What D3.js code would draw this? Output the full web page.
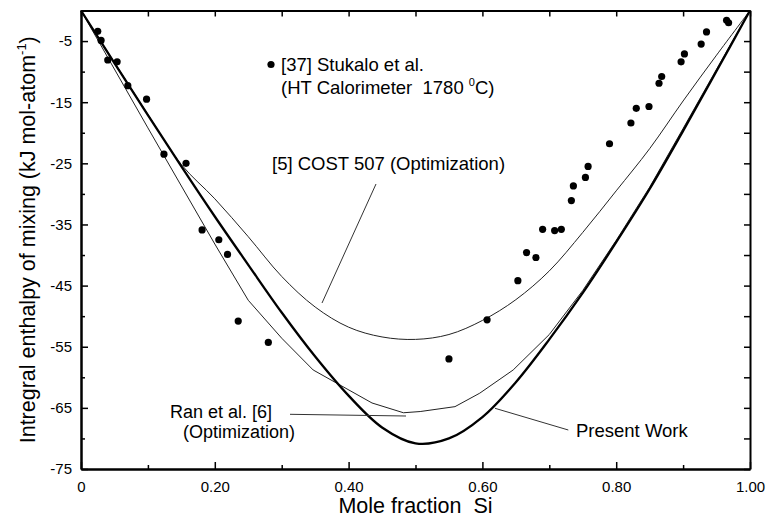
<!DOCTYPE html>
<html>
<head>
<meta charset="utf-8">
<script src="https://cdn.jsdelivr.net/npm/d3@7"></script>
<style>
  body { margin: 0; background: #fff; }
  svg text { font-family: "Liberation Sans", Arial, Helvetica, sans-serif; fill: #000; white-space: pre; }
</style>
</head>
<body>
<div class="chartContainer"></div>
<script>
// model curves (mole fraction Si -> kJ/mol-atom)
const gridX = [0, 0.05, 0.1, 0.15, 0.2, 0.25, 0.3, 0.35, 0.4, 0.45, 0.5, 0.55, 0.6, 0.65, 0.7, 0.75, 0.8, 0.85, 0.9, 0.95, 1];
const presentWork = [0, -8.6, -17.1, -25.5, -33.7, -41.6, -49.4, -56.6, -63.0, -68.2, -70.8, -70.0, -66.5, -60.8, -53.8, -46.2, -37.9, -29.2, -19.7, -9.9, 0];
const cost507 = [0, -8.5, -17.0, -25.2, -30.8, -37.0, -43.5, -48.5, -51.8, -53.4, -53.8, -53.0, -50.7, -47.3, -42.6, -36.3, -29.5, -22.6, -14.8, -7.3, 0];

const ranX = [0, 0.1, 0.2, 0.25, 0.3, 0.347, 0.435, 0.482, 0.507, 0.559, 0.596, 0.646, 0.7, 0.75, 0.8, 0.85, 0.9, 0.95, 1];
const ranEtAl = [0, -19.2, -38.2, -47.4, -53.6, -58.8, -64.2, -65.8, -65.6, -64.8, -62.6, -58.8, -53.0, -45.8, -37.6, -28.9, -19.3, -9.6, 0];

// [37] Stukalo et al. measurements
const stukaloX = [0.025, 0.030, 0.040, 0.054, 0.070, 0.098, 0.124, 0.157, 0.181, 0.206, 0.219, 0.235, 0.280, 0.550, 0.607,
                  0.653, 0.666, 0.680, 0.690, 0.708, 0.718, 0.733, 0.736, 0.754, 0.758, 0.790, 0.822, 0.830, 0.849, 0.864,
                  0.868, 0.897, 0.902, 0.927, 0.935, 0.965, 0.968];
const stukaloY = [-3.4, -4.9, -8.1, -8.4, -12.3, -14.5, -23.5, -25.0, -35.9, -37.5, -39.9, -50.8, -54.3, -57.0, -50.6,
                  -44.2, -39.6, -40.4, -35.8, -36.0, -35.8, -31.1, -28.7, -27.3, -25.5, -21.8, -18.4, -16.0, -15.7, -11.9,
                  -10.8, -8.4, -7.1, -5.5, -3.5, -1.6, -2.0];

const xTicks = [0, 0.2, 0.4, 0.6, 0.8, 1.0];
const xTickLabels = ["0", "0.20", "0.40", "0.60", "0.80", "1.00"];
const xMinorTicks = [0.1, 0.3, 0.5, 0.7, 0.9];
const yTicks = [-5, -15, -25, -35, -45, -55, -65, -75];
const yMinorTicks = [-10, -20, -30, -40, -50, -60, -70];

let width = 768;
let height = 520;
let margin = ({top: 10.5, right: 18, bottom: 51, left: 81});

let x = d3.scaleLinear()
    .domain([0, 1])
    .range([margin.left, width - margin.right]);

let y = d3.scaleLinear()
    .domain([-75, 0])
    .range([height - margin.bottom, margin.top]);

const svg = d3.select('.chartContainer').append("svg")
    .attr("width", width)
    .attr("height", height)
    .attr("viewBox", [0, 0, width, height]);

const styleAxis = g => {
    g.select(".domain").attr("stroke", "#000").attr("stroke-width", 2);
    g.selectAll(".tick line").attr("stroke", "#000").attr("stroke-width", 1.5);
};

// bottom axis with labels
svg.append("g")
    .attr("transform", `translate(0,${y(-75)})`)
    .call(d3.axisBottom(x).tickValues(xTicks).tickFormat((d, i) => xTickLabels[i])
        .tickSizeInner(-7).tickSizeOuter(0).tickPadding(12))
    .call(styleAxis)
    .call(g => g.selectAll("text").attr("font-size", 15).attr("font-family", null));

svg.append("g")
    .attr("transform", `translate(0,${y(-75)})`)
    .call(d3.axisBottom(x).tickValues(xMinorTicks).tickFormat("").tickSizeInner(-4).tickSizeOuter(0))
    .call(styleAxis);

// top axis, ticks only
svg.append("g")
    .attr("transform", `translate(0,${y(0)})`)
    .call(d3.axisTop(x).tickValues(xTicks.concat(xMinorTicks)).tickFormat("").tickSizeInner(-6).tickSizeOuter(0))
    .call(styleAxis);

// left axis with labels
svg.append("g")
    .attr("transform", `translate(${x(0)},0)`)
    .call(d3.axisLeft(y).tickValues(yTicks).tickFormat(d => String(d))
        .tickSizeInner(-7).tickSizeOuter(0).tickPadding(9))
    .call(styleAxis)
    .call(g => g.selectAll("text").attr("font-size", 15).attr("font-family", null));

svg.append("g")
    .attr("transform", `translate(${x(0)},0)`)
    .call(d3.axisLeft(y).tickValues(yMinorTicks).tickFormat("").tickSizeInner(-4).tickSizeOuter(0))
    .call(styleAxis);

// right axis, ticks only
svg.append("g")
    .attr("transform", `translate(${x(1)},0)`)
    .call(d3.axisRight(y).tickValues(yTicks.concat(yMinorTicks)).tickFormat("").tickSizeInner(-6).tickSizeOuter(0))
    .call(styleAxis);

// curves
let smooth = d3.line()
    .x(d => x(d[0]))
    .y(d => y(d[1]))
    .curve(d3.curveCatmullRom.alpha(0.5));

let straight = d3.line()
    .x(d => x(d[0]))
    .y(d => y(d[1]));

svg.append("path")
    .datum(gridX.map((v, i) => [v, cost507[i]]))
    .attr("fill", "none")
    .attr("stroke", "#222")
    .attr("stroke-width", 1)
    .attr("d", smooth);

svg.append("path")
    .datum(ranX.map((v, i) => [v, ranEtAl[i]]))
    .attr("fill", "none")
    .attr("stroke", "#222")
    .attr("stroke-width", 1)
    .attr("stroke-linejoin", "round")
    .attr("d", straight);

svg.append("path")
    .datum(gridX.map((v, i) => [v, presentWork[i]]))
    .attr("fill", "none")
    .attr("stroke", "#000")
    .attr("stroke-width", 2.3)
    .attr("stroke-linejoin", "round")
    .attr("d", smooth);

// experimental points
svg.append("g")
    .selectAll("circle")
    .data(stukaloX.map((v, i) => [v, stukaloY[i]]))
    .join("circle")
    .attr("cx", d => x(d[0]))
    .attr("cy", d => y(d[1]))
    .attr("r", 3.6)
    .attr("fill", "#000");

// legend for the points
svg.append("circle")
    .attr("cx", 271)
    .attr("cy", 64.5)
    .attr("r", 3.6)
    .attr("fill", "#000");

svg.append("text")
    .attr("x", 281)
    .attr("y", 71)
    .attr("font-size", 18.5)
    .text("[37] Stukalo et al.");

const legend2 = svg.append("text")
    .attr("x", 281)
    .attr("y", 93.5)
    .attr("font-size", 18.5);
legend2.append("tspan").text("(HT Calorimeter  1780 ");
legend2.append("tspan").attr("font-size", 11).attr("dy", -8).text("0");
legend2.append("tspan").attr("dy", 8).text("C)");

// annotations with leader lines
const leader = (x1, y1, x2, y2) => svg.append("line")
    .attr("x1", x1).attr("y1", y1).attr("x2", x2).attr("y2", y2)
    .attr("stroke", "#333").attr("stroke-width", 1);

svg.append("text")
    .attr("x", 272)
    .attr("y", 170)
    .attr("font-size", 18.5)
    .text("[5] COST 507 (Optimization)");
leader(376, 184, 322, 303);

svg.append("text")
    .attr("x", 170)
    .attr("y", 417.5)
    .attr("font-size", 18)
    .text("Ran et al. [6]");
svg.append("text")
    .attr("x", 183)
    .attr("y", 437.5)
    .attr("font-size", 18)
    .text("(Optimization)");
leader(290, 414.3, 406, 416);

svg.append("text")
    .attr("x", 576)
    .attr("y", 437)
    .attr("font-size", 18.5)
    .text("Present Work");
leader(495, 408.3, 568.3, 430);

// axis titles
svg.append("text")
    .attr("x", x(0.5))
    .attr("y", 513)
    .attr("text-anchor", "middle")
    .attr("font-size", 21.5)
    .text("Mole fraction  Si");

const yTitle = svg.append("text")
    .attr("transform", `translate(35,${(y(0) + y(-75)) / 2}) rotate(-90)`)
    .attr("text-anchor", "middle")
    .attr("font-size", 21.5);
yTitle.append("tspan").text("Intregral enthalpy of mixing (kJ mol-atom");
yTitle.append("tspan").attr("font-size", 13).attr("dy", -9).text("-1");
yTitle.append("tspan").attr("dy", 9).text(")");
</script>
</body>
</html>
